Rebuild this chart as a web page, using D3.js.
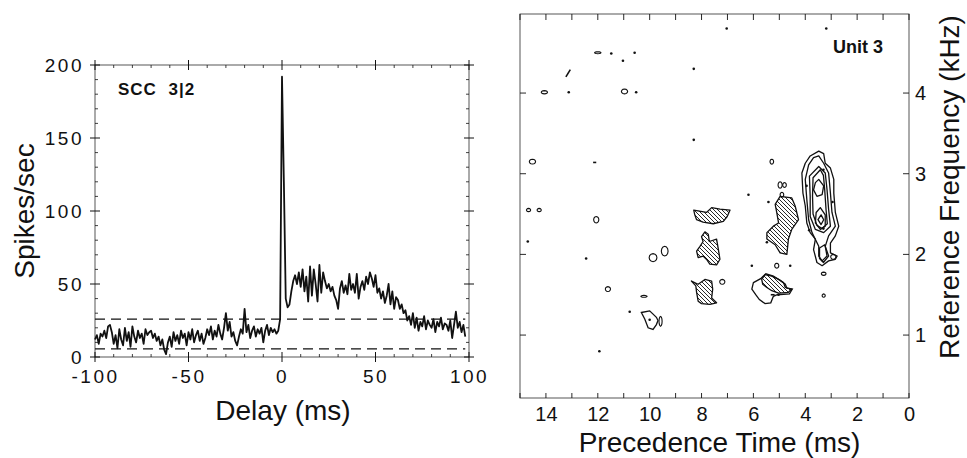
<!DOCTYPE html>
<html><head><meta charset="utf-8">
<script src="https://cdn.jsdelivr.net/npm/d3@7"></script>
<style>
body{margin:0;background:#fff;}
svg{display:block;font-family:"Liberation Sans",Arial,Helvetica,sans-serif;}
</style></head><body>
<svg id="chart" width="967" height="458"></svg>
<script>
// ================= LEFT PANEL DATA (cross-correlogram) =================
const delayTicks = [-100, -50, 0, 50, 100];
const delayMinorTicks = [-90,-80,-70,-60,-40,-30,-20,-10,10,20,30,40,60,70,80,90];
const rateTicks = [0, 50, 100, 150, 200];
const rateMinorTicks = [10,20,30,40,60,70,80,90,110,120,130,140,160,170,180,190];
const firstBinDelay = -100; // ms, 1 ms bins
const spikeRates = [
  12,15,9,16,14,18,13,21,22,17, 9,15,6,19,12,8,20,11,17,7,
  21,14,10,18,13,16,9,19,15,17, 18,13,16,11,14,8,12,5,2,10,
  14,7,17,11,15,9,18,13,16,8, 17,12,19,10,15,18,11,16,9,13,
  19,15,21,12,18,14,22,16,12,20, 30,18,24,14,17,11,8,14,19,16,
  33,17,22,13,18,21,14,19,16,20, 10,18,22,15,20,17,19,16,18,26,
  192,120,40,34,36,45,52,56,50,58, 48,60,45,55,38,62,42,60,50,38,
  63,44,58,52,47,50,45,48,42,39, 33,47,52,44,49,43,57,46,50,44,
  57,40,48,52,46,55,50,58,54,48, 56,44,47,40,45,37,42,50,36,45,
  33,41,39,33,36,30,32,25,28,22, 30,20,27,18,24,21,28,19,25,22,
  20,26,17,24,21,27,19,23,22,18, 25,13,22,31,20,24,17,22,14
];
const upperLimit = 26;   // dashed significance line
const lowerLimit = 5.5;  // dashed significance line
const limitEndDelay = 98;

// ================= RIGHT PANEL DATA (contour map) =================
const timeTicks = [0, 2, 4, 6, 8, 10, 12, 14];
const timeMinorTicks = [1,3,5,7,9,11,13,15];
const freqTicks = [1, 2, 3, 4];
// contour polygons, points are [precedence time (ms), frequency (kHz)]
const mainOuter = [[3.48,3.28],[3.29,3.25],[3.23,3.13],[3.03,3.07],[2.90,2.93],[2.90,2.76],[2.84,2.52],[2.71,2.35],[2.84,2.23],[3.03,2.14],[3.03,2.02],[2.77,1.98],[2.84,1.94],[3.10,1.92],[3.35,1.86],[3.55,1.90],[3.68,2.06],[3.61,2.19],[3.81,2.27],[3.94,2.39],[4.00,2.60],[4.09,2.76],[4.13,3.01],[4.00,3.13],[3.81,3.22]];
const mainLevel2 = [[3.48,3.22],[3.29,3.13],[3.10,3.01],[3.03,2.76],[2.97,2.52],[2.84,2.35],[3.10,2.23],[3.23,2.10],[3.16,1.98],[3.35,1.92],[3.48,1.98],[3.48,2.10],[3.74,2.27],[3.87,2.43],[3.94,2.68],[4.00,2.93],[3.87,3.11],[3.68,3.20]];
const mainLevel3 = [[3.48,3.09],[3.23,3.01],[3.16,2.80],[3.10,2.56],[3.03,2.35],[3.29,2.27],[3.61,2.31],[3.81,2.47],[3.81,2.72],[3.84,2.97]];
const mainLevel3b = [[3.42,3.05],[3.30,2.98],[3.25,2.80],[3.20,2.56],[3.15,2.38],[3.35,2.32],[3.55,2.36],[3.70,2.50],[3.72,2.72],[3.70,2.95]];
const mainUpperCore = [[3.48,2.93],[3.29,2.85],[3.35,2.74],[3.55,2.72],[3.68,2.80],[3.61,2.89]];
const mainLowerCore = [[3.42,2.58],[3.23,2.49],[3.23,2.35],[3.42,2.31],[3.61,2.39],[3.58,2.52]];
const mainInnerCore = [[3.39,2.49],[3.29,2.43],[3.39,2.37],[3.51,2.43]];
const mainLowerLoop = [[3.45,2.08],[3.25,2.12],[3.10,1.98],[3.30,1.90],[3.45,1.95]];
const blobOutlineE = [[6.00,1.65],[5.72,1.70],[5.52,1.76],[5.23,1.73],[4.97,1.68],[4.77,1.63],[4.71,1.58],[4.50,1.57],[4.61,1.51],[5.08,1.50],[5.23,1.48],[5.33,1.40],[5.55,1.39],[5.77,1.44],[5.91,1.50],[6.06,1.57]];
const hatchedBlobs = [
  [[4.97,2.72],[4.52,2.70],[4.39,2.60],[4.26,2.43],[4.52,2.31],[4.65,2.19],[4.71,2.00],[4.97,2.02],[5.16,2.12],[5.48,2.19],[5.48,2.27],[5.23,2.35],[5.03,2.39],[5.10,2.52],[5.16,2.62]],
  [[8.30,2.55],[7.81,2.52],[7.61,2.58],[7.29,2.56],[6.90,2.55],[7.01,2.47],[7.16,2.41],[7.55,2.38],[7.94,2.40],[8.19,2.43],[8.26,2.49]],
  [[7.87,2.28],[7.74,2.25],[7.70,2.16],[7.42,2.19],[7.35,2.06],[7.29,1.94],[7.42,1.87],[7.68,1.88],[7.81,1.94],[7.94,1.98],[8.13,1.96],[8.19,2.04],[8.06,2.10],[7.94,2.16],[8.00,2.22]],
  [[8.39,1.67],[8.13,1.63],[7.87,1.69],[7.61,1.67],[7.57,1.57],[7.61,1.46],[7.42,1.40],[7.68,1.38],[8.00,1.39],[8.13,1.42],[8.19,1.53],[8.22,1.61]],
  [[5.68,1.69],[5.55,1.75],[5.29,1.73],[5.03,1.69],[4.84,1.65],[4.77,1.59],[4.52,1.57],[4.65,1.53],[5.03,1.52],[5.29,1.55],[5.48,1.59],[5.64,1.63]]
];
const openBlobs = [
  [[10.32,1.28],[10.00,1.30],[9.74,1.22],[9.68,1.18],[9.74,1.13],[9.87,1.07],[10.06,1.09],[10.19,1.20]]
];
// small closed loops: [time, freq, half-width (ms), half-height (kHz)]
const smallLoops = [
  [14.52,3.15,0.12,0.03],[14.06,4.01,0.12,0.02],[10.97,4.02,0.12,0.03],
  [14.67,2.55,0.08,0.02],[14.26,2.55,0.08,0.02],[12.06,2.43,0.1,0.04],
  [11.61,1.57,0.1,0.03],[10.22,1.48,0.12,0.012],[12.0,4.50,0.12,0.012],
  [9.87,1.96,0.15,0.05],[9.42,2.04,0.13,0.06],[9.58,1.17,0.06,0.06],
  [7.20,1.66,0.10,0.03],[5.29,3.15,0.07,0.03],[5.10,1.86,0.08,0.03],
  [3.29,1.76,0.09,0.02],[3.29,1.49,0.06,0.02],[2.92,1.97,0.10,0.03],
  [4.97,2.86,0.08,0.04],[4.80,2.86,0.07,0.03],[4.90,2.74,0.07,0.03]
];
const strokes = [ [[13.23,4.20],[13.06,4.29]], [[12.18,3.14],[12.06,3.14]], [[5.33,1.50],[5.18,1.50]] ];
const dots = [[7.03,4.80],[3.19,4.80],[11.48,4.49],[10.58,4.50],[11.03,4.40],[8.30,4.30],[13.12,4.01],[10.52,4.01],[8.30,3.42],[6.19,2.74],[5.42,2.65],[14.70,2.16],[12.45,1.95],[6.06,1.86],[4.58,1.86],[10.77,1.29],[11.94,0.80],[5.03,1.50],[5.48,2.15],[10.0,1.19],[3.95,2.85],[3.30,3.05],[3.85,2.30],[3.30,2.32],[2.95,2.65]];

// ================= DRAW =================
const svg = d3.select("#chart");
const ink = "#111";
const plainFmt = d => String(d);

// ---------- left panel ----------
const x1 = d3.scaleLinear().domain([-100, 100]).range([95, 469]);
const y1 = d3.scaleLinear().domain([0, 200]).range([357, 65]);
const L = svg.append("g");
L.append("rect").attr("x", x1(-100)).attr("y", y1(200))
  .attr("width", x1(100) - x1(-100)).attr("height", y1(0) - y1(200))
  .attr("fill", "none").attr("stroke", "#444").attr("stroke-width", 0.9);

delayTicks.forEach(d => {
  [y1(0), y1(200)].forEach(yy => L.append("line").attr("x1", x1(d)).attr("x2", x1(d))
    .attr("y1", yy - 5).attr("y2", yy + 5).attr("stroke", ink).attr("stroke-width", 1));
});
rateTicks.forEach(d => {
  [x1(-100), x1(100)].forEach(xx => L.append("line").attr("y1", y1(d)).attr("y2", y1(d))
    .attr("x1", xx - 5).attr("x2", xx + 5).attr("stroke", ink).attr("stroke-width", 1));
});
delayMinorTicks.forEach(d => {
  L.append("line").attr("x1", x1(d)).attr("x2", x1(d)).attr("y1", y1(0)).attr("y2", y1(0) - 3).attr("stroke", ink).attr("stroke-width", 0.8);
  L.append("line").attr("x1", x1(d)).attr("x2", x1(d)).attr("y1", y1(200)).attr("y2", y1(200) + 3).attr("stroke", ink).attr("stroke-width", 0.8);
});
rateMinorTicks.forEach(d => {
  L.append("line").attr("y1", y1(d)).attr("y2", y1(d)).attr("x1", x1(-100)).attr("x2", x1(-100) + 3).attr("stroke", ink).attr("stroke-width", 0.8);
  L.append("line").attr("y1", y1(d)).attr("y2", y1(d)).attr("x1", x1(100)).attr("x2", x1(100) - 3).attr("stroke", ink).attr("stroke-width", 0.8);
});

const gx1 = L.append("g").attr("transform", `translate(0,${y1(0)})`)
  .call(d3.axisBottom(x1).tickValues(delayTicks).tickSize(0).tickPadding(13).tickFormat(plainFmt));
gx1.select(".domain").remove();
gx1.selectAll("text").attr("font-size", 19).attr("letter-spacing", "2.5px").attr("fill", ink)
  .attr("font-family", "Liberation Sans, Arial, sans-serif");
const gy1 = L.append("g").attr("transform", `translate(${x1(-100)},0)`)
  .call(d3.axisLeft(y1).tickValues(rateTicks).tickSize(0).tickPadding(11).tickFormat(plainFmt));
gy1.select(".domain").remove();
gy1.selectAll("text").attr("font-size", 19).attr("letter-spacing", "2.5px").attr("fill", ink)
  .attr("font-family", "Liberation Sans, Arial, sans-serif");

[upperLimit, lowerLimit].forEach(v => {
  L.append("line").attr("x1", x1(-100)).attr("x2", x1(limitEndDelay))
    .attr("y1", y1(v)).attr("y2", y1(v))
    .attr("stroke", ink).attr("stroke-width", 1.3).attr("stroke-dasharray", "10,6");
});

const trace = spikeRates.map((v, i) => [firstBinDelay + i, v]);
L.append("path").datum(trace)
  .attr("d", d3.line().x(d => x1(d[0])).y(d => y1(d[1])))
  .attr("fill", "none").attr("stroke", ink).attr("stroke-width", 1.8).attr("stroke-linejoin", "round");

L.append("text").attr("x", 118).attr("y", 95).attr("font-size", 17).attr("font-weight", "bold")
  .attr("letter-spacing", "1px").attr("word-spacing", "6px").attr("fill", ink).text("SCC 3|2");
L.append("text").attr("x", (x1(-100) + x1(100)) / 2 + 1).attr("y", 420).attr("text-anchor", "middle")
  .attr("font-size", 28).attr("fill", ink).text("Delay (ms)");
L.append("text").attr("transform", "translate(34,211) rotate(-90)").attr("text-anchor", "middle")
  .attr("font-size", 28).attr("fill", ink).text("Spikes/sec");

// ---------- right panel ----------
const x2 = d3.scaleLinear().domain([15, 0]).range([520, 909]);
const y2 = d3.scaleLinear().domain([0.22, 4.98]).range([398, 14]);
const R = svg.append("g");
const defs = svg.append("defs");
const pat = defs.append("pattern").attr("id", "hatch").attr("patternUnits", "userSpaceOnUse")
  .attr("width", 4).attr("height", 4);
pat.append("path").attr("d", "M-1,-1L5,5M-1,3L1,5M3,-1L5,1").attr("stroke", ink).attr("stroke-width", 0.9);

R.append("rect").attr("x", x2(15)).attr("y", y2(4.98))
  .attr("width", x2(0) - x2(15)).attr("height", y2(0.22) - y2(4.98))
  .attr("fill", "none").attr("stroke", "#444").attr("stroke-width", 0.9);
timeTicks.concat(timeMinorTicks).forEach(t => {
  R.append("line").attr("x1", x2(t)).attr("x2", x2(t)).attr("y1", y2(4.98)).attr("y2", y2(4.98) + 6).attr("stroke", ink).attr("stroke-width", 0.9);
  R.append("line").attr("x1", x2(t)).attr("x2", x2(t)).attr("y1", y2(0.22)).attr("y2", y2(0.22) - 5).attr("stroke", ink).attr("stroke-width", 0.9);
});
freqTicks.forEach(f => {
  R.append("line").attr("y1", y2(f)).attr("y2", y2(f)).attr("x1", x2(15)).attr("x2", x2(15) + 6).attr("stroke", ink).attr("stroke-width", 0.9);
  R.append("line").attr("y1", y2(f)).attr("y2", y2(f)).attr("x1", x2(0)).attr("x2", x2(0) - 6).attr("stroke", ink).attr("stroke-width", 0.9);
});
const gx2 = R.append("g").attr("transform", `translate(0,${y2(0.22)})`)
  .call(d3.axisBottom(x2).tickValues(timeTicks).tickSize(0).tickPadding(9).tickFormat(plainFmt));
gx2.select(".domain").remove();
gx2.selectAll("text").attr("font-size", 20).attr("fill", ink).attr("font-family", "Liberation Sans, Arial, sans-serif");
const gy2 = R.append("g").attr("transform", `translate(${x2(0)},0)`)
  .call(d3.axisRight(y2).tickValues(freqTicks).tickSize(0).tickPadding(6).tickFormat(plainFmt));
gy2.select(".domain").remove();
gy2.selectAll("text").attr("font-size", 20).attr("fill", ink).attr("font-family", "Liberation Sans, Arial, sans-serif");

const poly = d3.line().x(d => x2(d[0])).y(d => y2(d[1])).curve(d3.curveLinearClosed);
const lineOpen = d3.line().x(d => x2(d[0])).y(d => y2(d[1]));

hatchedBlobs.forEach(b => R.append("path").attr("d", poly(b)).attr("fill", "url(#hatch)")
  .attr("stroke", ink).attr("stroke-width", 1.3).attr("stroke-linejoin", "round"));
[blobOutlineE].concat(openBlobs).forEach(b => R.append("path").attr("d", poly(b)).attr("fill", "none")
  .attr("stroke", ink).attr("stroke-width", 1.3));
[mainOuter, mainLevel2, mainLevel3, mainLevel3b, mainUpperCore, mainLowerCore, mainInnerCore, mainLowerLoop]
  .forEach(b => R.append("path").attr("d", poly(b)).attr("fill", "none")
  .attr("stroke", ink).attr("stroke-width", 1.3).attr("stroke-linejoin", "round"));

smallLoops.forEach(([t, f, dt, df]) => {
  const pts = d3.range(0, 12).map(k => {
    const a = k / 12 * 2 * Math.PI;
    return [t + dt * Math.cos(a), f + df * Math.sin(a)];
  });
  R.append("path").attr("d", poly(pts)).attr("fill", "none").attr("stroke", ink).attr("stroke-width", 1.1);
});
strokes.forEach(s => R.append("path").attr("d", lineOpen(s)).attr("stroke", ink).attr("stroke-width", 1.6).attr("fill", "none"));
dots.forEach(([t, f]) => R.append("circle").attr("cx", x2(t)).attr("cy", y2(f)).attr("r", 1.3).attr("fill", ink));

R.append("text").attr("x", 833).attr("y", 53).attr("font-size", 18).attr("font-weight", "bold")
  .attr("fill", ink).text("Unit 3");
R.append("text").attr("x", (x2(15) + x2(0)) / 2 + 5).attr("y", 452).attr("text-anchor", "middle")
  .attr("font-size", 28).attr("fill", ink).text("Precedence Time (ms)");
R.append("text").attr("transform", "translate(959,187) rotate(-90)").attr("text-anchor", "middle")
  .attr("font-size", 28).attr("fill", ink).text("Reference Frequency (kHz)");
</script>
</body></html>
